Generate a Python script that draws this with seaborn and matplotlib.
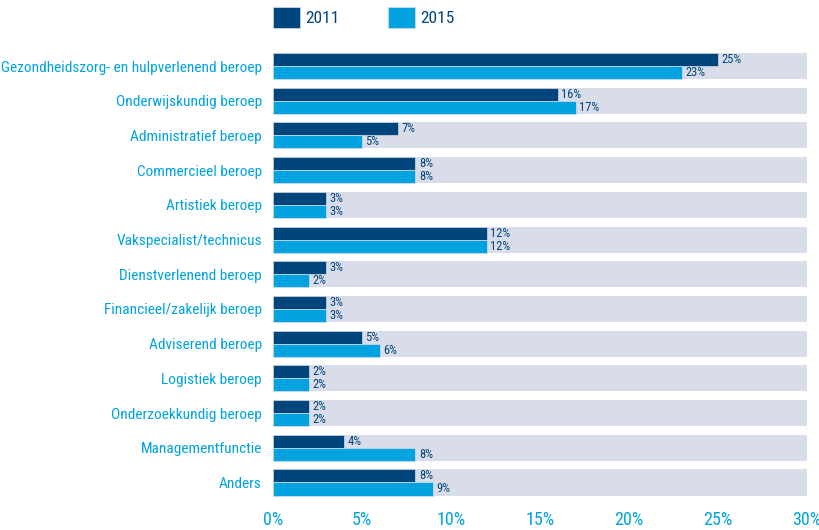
import pandas as pd
import numpy as np
import seaborn as sns
import matplotlib
matplotlib.use("Agg")
import matplotlib.pyplot as plt

beroepen = [
    "Gezondheidszorg- en hulpverlenend beroep",
    "Onderwijskundig beroep",
    "Administratief beroep",
    "Commercieel beroep",
    "Artistiek beroep",
    "Vakspecialist/technicus",
    "Dienstverlenend beroep",
    "Financieel/zakelijk beroep",
    "Adviserend beroep",
    "Logistiek beroep",
    "Onderzoekkundig beroep",
    "Managementfunctie",
    "Anders",
]
jaar2011 = [25, 16, 7, 8, 3, 12, 3, 3, 5, 2, 2, 4, 8]
jaar2015 = [23, 17, 5, 8, 3, 12, 2, 3, 6, 2, 2, 8, 9]
jaren = ["2011", "2015"]
xticks = [0, 5, 10, 15, 20, 25, 30]
xmax = 30

donker = "#00457c"
licht = "#00a3e0"
band = "#d8dde9"

sns.set_style("white")
plt.rcParams["font.family"] = ["Roboto Condensed", "Open Sans Condensed",
                               "Liberation Sans", "DejaVu Sans"]
plt.rcParams["font.stretch"] = "condensed"

df = pd.DataFrame({
    "beroep": beroepen * 2,
    "jaar": [jaren[0]] * len(beroepen) + [jaren[1]] * len(beroepen),
    "pct": jaar2011 + jaar2015,
})
achter = pd.DataFrame({"beroep": beroepen, "pct": [xmax] * len(beroepen)})

fig = plt.figure(figsize=(8.2, 5.3), dpi=100)
ax = fig.add_axes([273 / 820, 0.0569, 534 / 820, 0.8513])

# grijze achtergrondbalken
sns.barplot(ax=ax, data=achter, x="pct", y="beroep", color=band, width=0.75,
            orient="h", errorbar=None, saturation=1, linewidth=0)
sns.barplot(ax=ax, data=df, x="pct", y="beroep", hue="jaar", hue_order=jaren,
            palette=[donker, licht], width=0.75, orient="h", errorbar=None,
            saturation=1, dodge=True, legend=True, linewidth=0.5,
            edgecolor=band)

for c in ax.containers[1:]:
    ax.bar_label(c, labels=[f"{v:.0f}%" for v in c.datavalues], padding=2.5,
                 fontsize=9, color=donker)

ax.set_xlim(0, xmax)
ax.set_ylim(len(beroepen) - 0.5, -0.5)
ax.set_xticks(xticks)
ax.set_xticklabels([f"{t}%" for t in xticks], fontsize=13, color=licht)
ax.tick_params(axis="y", labelsize=11.1, labelcolor=licht, length=0, pad=8)
ax.tick_params(axis="x", length=0, pad=8)
ax.set_xlabel("")
ax.set_ylabel("")
sns.despine(ax=ax, left=True, bottom=True)

h, l = ax.get_legend_handles_labels()
ax.legend(h, l, loc="upper left", bbox_to_anchor=(273 / 820, 1 - 7 / 530),
          bbox_transform=fig.transFigure, ncol=2, frameon=False, fontsize=12.5,
          handlelength=1.55, handleheight=1.5, handletextpad=0.3,
          columnspacing=2.8, borderpad=0, borderaxespad=0, labelcolor=donker)

fig.savefig("out.png", dpi=100)
